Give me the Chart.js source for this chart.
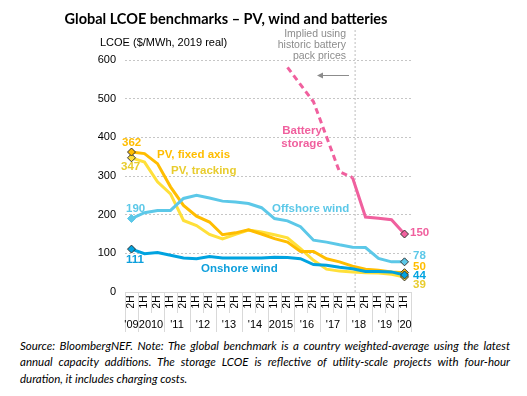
<!DOCTYPE html>
<html>
<head>
<meta charset="utf-8">
<script src="https://cdn.jsdelivr.net/npm/chart.js@4"></script>
<style>
  html, body { margin: 0; padding: 0; background: #fff; }
  #wrap { position: relative; width: 527px; height: 396px; }
  #note {
    position: absolute; left: 20px; top: 338px; width: 490px;
    font-family: Lato, "Open Sans", sans-serif; font-style: italic; font-size: 11.5px;
    line-height: 16.3px; text-align: justify; color: #000;
  }
</style>
</head>
<body>
<div id="wrap">
  <canvas id="lcoeChart" width="527" height="336"></canvas>
  <div id="note">Source: BloombergNEF. Note: The global benchmark is a country weighted-average using the latest annual capacity additions. The storage LCOE is reflective of utility-scale projects with four-hour duration, it includes charging costs.</div>
</div>
<script>
// Semestres (eixo X)
const categorias = ['2H09', '1H10', '2H10', '1H11', '2H11', '1H12', '2H12', '1H13', '2H13', '1H14', '2H14',
    '1H15', '2H15', '1H16', '2H16', '1H17', '2H17', '1H18', '2H18', '1H19', '2H19', '1H20'];
// Rótulos dos anos e índice do primeiro/último semestre de cada grupo
const anos = ["'09", '2010', "'11", "'12", "'13", "'14", '2015', "'16", "'17", "'18", "'19", "'20"];
const anosInicio = [0, 1, 3, 5, 7, 9, 11, 13, 15, 17, 19, 21];
const anosFim = [0, 2, 4, 6, 8, 10, 12, 14, 16, 18, 20, 21];

const yTicks = [0, 100, 200, 300, 400, 500, 600];

// Valores LCOE ($/MWh, 2019 real)
const pvFixo = [362, 358, 332, 272, 224, 196, 181, 148, 153, 161, 150, 138, 129, 105, 105, 86, 78, 67, 59, 56, 52, 50];
const pvTracking = [347, 336, 285, 254, 185, 172, 149, 137, 149, 160, 155, 148, 140, 112, 82, 59, 54, 52, 50, 49, 46, 39];
const offshore = [190, 205, 211, 211, 242, 250, 243, 235, 233, 229, 218, 190, 184, 169, 134, 129, 122, 116, 115, 87, 78, 78];
const onshore = [111, 99, 102, 95, 88, 86, 92, 88, 88, 88, 88, 90, 89, 86, 71, 69, 64, 60, 53, 53, 52, 44];
// Baterias: parte tracejada (implícita) e parte sólida
const bateriaImplicita = [null, null, null, null, null, null, null, null, null, null, null, null,
    581, null, 492, null, 311, 296, null, null, null, null];
const bateria = [null, null, null, null, null, null, null, null, null, null, null, null,
    null, null, null, null, null, 296, 194, 191, 187, 150];

const COR_FIXO = '#FFBD00';
const COR_TRACK = '#FFE03A';
const COR_OFF = '#5CC8E8';
const COR_ON = '#00A3E0';
const COR_BAT = '#F0609E';
const FONTE = '"Liberation Sans", Arial, sans-serif';

function pontas(ctx) {
    const i = ctx.dataIndex;
    return (i === 0 || i === categorias.length - 1) ? 4 : 0;
}

function serie(dados, cor, extra) {
    return Object.assign({
        data: dados,
        borderColor: cor,
        backgroundColor: cor,
        borderWidth: 3,
        tension: 0,
        pointStyle: 'rectRot',
        pointRadius: pontas,
        pointHoverRadius: pontas,
        pointBackgroundColor: cor,
        pointBorderColor: '#333',
        pointBorderWidth: 1
    }, extra || {});
}

// Desenha título, tabela do eixo X, anotações e rótulos
const extras = {
    id: 'extras',
    beforeDatasetsDraw(chart) {
        const ctx = chart.ctx;
        const x = chart.scales.x;
        const area = chart.chartArea;
        // linha vertical tracejada (histórico x projetado)
        const xv = x.getPixelForValue(17.2);
        ctx.save();
        ctx.strokeStyle = '#bdbdbd';
        ctx.lineWidth = 1;
        ctx.setLineDash([2, 2]);
        ctx.beginPath();
        ctx.moveTo(xv, 30);
        ctx.lineTo(xv, area.bottom);
        ctx.stroke();
        ctx.restore();
    },
    afterDraw(chart) {
        const ctx = chart.ctx;
        const x = chart.scales.x;
        const area = chart.chartArea;
        const passo = x.getPixelForValue(1) - x.getPixelForValue(0);
        ctx.save();

        // título
        ctx.fillStyle = '#000';
        ctx.font = 'bold 14.5px Lato, "Open Sans", sans-serif';
        ctx.textAlign = 'center';
        ctx.textBaseline = 'middle';
        ctx.fillText('Global LCOE benchmarks – PV, wind and batteries', 226, 19);

        // título do eixo Y
        ctx.font = '11px ' + FONTE;
        ctx.textAlign = 'left';
        ctx.fillText('LCOE ($/MWh, 2019 real)', 100, 43);

        // tabela do eixo X
        const topo = area.bottom;
        const meio = topo + 21;
        const base = topo + 40;
        ctx.strokeStyle = '#d9d9d9';
        ctx.lineWidth = 1;
        ctx.beginPath();
        ctx.moveTo(area.left, topo + 0.5);
        ctx.lineTo(area.right, topo + 0.5);
        for (let i = 0; i <= categorias.length; i++) {
            const px = Math.round(x.getPixelForValue(i) - passo / 2) + 0.5;
            const grupo = anosInicio.indexOf(i) >= 0 || i === categorias.length;
            ctx.moveTo(px, topo);
            ctx.lineTo(px, grupo ? base : meio);
        }
        ctx.stroke();

        ctx.fillStyle = '#000';
        ctx.font = '10px ' + FONTE;
        ctx.textAlign = 'center';
        ctx.textBaseline = 'middle';
        categorias.forEach(function(c, i) {
            ctx.save();
            ctx.translate(x.getPixelForValue(i), topo + 10);
            ctx.rotate(-Math.PI / 2);
            ctx.fillText(c.slice(0, 2), 0, 0);
            ctx.restore();
        });
        ctx.font = '11px ' + FONTE;
        anos.forEach(function(a, k) {
            const cx = (x.getPixelForValue(anosInicio[k]) + x.getPixelForValue(anosFim[k])) / 2;
            ctx.fillText(a, cx, topo + 33);
        });

        // anotação "Implied using..."
        ctx.fillStyle = '#8c8c8c';
        ctx.font = '10.5px ' + FONTE;
        ctx.textAlign = 'right';
        ctx.fillText('Implied using', 346, 34);
        ctx.fillText('historic battery', 346, 45);
        ctx.fillText('pack prices', 346, 56);
        ctx.strokeStyle = '#8c8c8c';
        ctx.beginPath();
        ctx.moveTo(349, 75.5);
        ctx.lineTo(320, 75.5);
        ctx.stroke();
        ctx.beginPath();
        ctx.moveTo(317, 75.5);
        ctx.lineTo(323, 72.5);
        ctx.lineTo(323, 78.5);
        ctx.closePath();
        ctx.fill();

        // rótulos das séries
        const rotulos = [
            ['362', COR_FIXO, 122, 143, 'left'],
            ['PV, fixed axis', COR_FIXO, 157, 155, 'left'],
            ['347', '#E8CC2E', 121, 167, 'left'],
            ['PV, tracking', '#E8CC2E', 171, 171, 'left'],
            ['190', COR_OFF, 126, 209, 'left'],
            ['Offshore wind', COR_OFF, 272, 209, 'left'],
            ['111', '#0D9FDC', 126, 260, 'left'],
            ['Onshore wind', '#0D9FDC', 201, 269, 'left'],
            ['Battery', COR_BAT, 302, 131, 'center'],
            ['storage', COR_BAT, 302, 144, 'center'],
            ['150', COR_BAT, 410, 233, 'left'],
            ['78', COR_OFF, 413, 256, 'left'],
            ['50', COR_FIXO, 413, 267, 'left'],
            ['44', COR_ON, 413, 276, 'left'],
            ['39', '#E8CC2E', 413, 285, 'left']
        ];
        ctx.font = 'bold 11.5px ' + FONTE;
        rotulos.forEach(function(r) {
            ctx.fillStyle = r[1];
            ctx.textAlign = r[4];
            ctx.fillText(r[0], r[2], r[3]);
        });
        ctx.restore();
    }
};

const ctx = document.getElementById('lcoeChart').getContext('2d');
const lcoeChart = new Chart(ctx, {
    type: 'line',
    data: {
        labels: categorias,
        datasets: [
            serie(offshore, COR_OFF, {
                pointBorderColor: function(c) { return c.dataIndex === 0 ? COR_OFF : '#333'; }
            }),
            serie(onshore, COR_ON),
            serie(bateriaImplicita, COR_BAT, { borderDash: [6, 4], spanGaps: true, pointRadius: 0 }),
            serie(bateria, COR_BAT),
            serie(pvFixo, COR_FIXO),
            serie(pvTracking, COR_TRACK)
        ]
    },
    options: {
        responsive: false,
        animation: false,
        events: [],
        layout: { padding: { top: 60, right: 116, left: 0, bottom: 0 } },
        plugins: {
            legend: { display: false },
            tooltip: { enabled: false }
        },
        scales: {
            x: {
                offset: true,
                grid: { display: false },
                border: { display: false },
                ticks: { display: false },
                afterFit: function(s) { s.height = 44; }
            },
            y: {
                min: 0,
                max: 600,
                afterBuildTicks: function(s) { s.ticks = yTicks.map(function(v) { return { value: v }; }); },
                ticks: {
                    padding: 9,
                    color: '#000',
                    font: { family: FONTE, size: 11 }
                },
                grid: {
                    drawTicks: false,
                    color: function(c) { return c.tick.value === 0 ? 'rgba(0,0,0,0)' : '#c6c6c6'; }
                },
                border: { display: false, dash: [2, 2] },
                afterFit: function(s) { s.width = 125; }
            }
        }
    },
    plugins: [extras]
});
</script>
</body>
</html>
